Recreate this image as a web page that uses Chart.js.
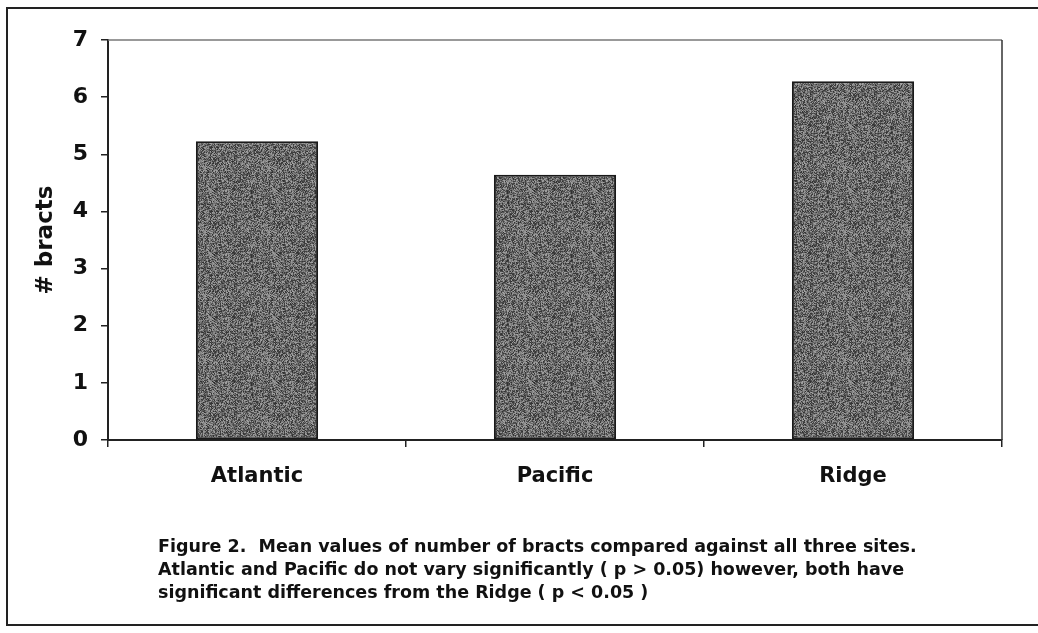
<!DOCTYPE html>
<html>
<head>
<meta charset="utf-8">
<script src="https://cdn.jsdelivr.net/npm/chart.js@4.4.1/dist/chart.umd.min.js"></script>
<style>
  html, body { margin: 0; padding: 0; background: #fff; overflow: hidden; }
  #wrap { position: relative; width: 1038px; height: 633px; }
  #frame { position: absolute; left: 6px; top: 7px; width: 1100px; height: 619px;
           border: 2px solid #222; border-right: none; box-sizing: border-box; }
  #chart { position: absolute; left: 0; top: 0; }
  #caption { position: absolute; left: 158px; top: 535px; font-family: "DejaVu Sans", sans-serif;
             font-size: 17.5px; font-weight: bold; line-height: 23px; color: #111; white-space: pre; }
</style>
</head>
<body>
<div id="wrap">
  <div id="frame"></div>
  <canvas id="chart" width="1038" height="633"></canvas>
  <div id="caption">Figure 2.  Mean values of number of bracts compared against all three sites.
Atlantic and Pacific do not vary significantly ( p &gt; 0.05) however, both have
significant differences from the Ridge ( p &lt; 0.05 )</div>
</div>
<script>
const sites = ['Atlantic', 'Pacific', 'Ridge'];
const meanBracts = [5.23, 4.64, 6.28];
const yTicks = [0, 1, 2, 3, 4, 5, 6, 7];

// grainy grey fill like the scanned bars
function grainPattern() {
  const c = document.createElement('canvas');
  c.width = 64; c.height = 64;
  const g = c.getContext('2d');
  let seed = 12345;
  function next() { seed = (seed * 1103515245 + 12345) & 0x7fffffff; return seed / 0x7fffffff; }
  for (let y = 0; y < 64; y++) {
    for (let x = 0; x < 64; x++) {
      const v = Math.round(45 + next() * 120);
      g.fillStyle = 'rgb(' + v + ',' + v + ',' + v + ')';
      g.fillRect(x, y, 1, 1);
    }
  }
  return g.createPattern(c, 'repeat');
}

const frameLines = {
  id: 'frameLines',
  afterDraw: (chart) => {
    const { ctx, chartArea: { top, left, right, bottom } } = chart;
    ctx.save();
    ctx.strokeStyle = '#777';
    ctx.lineWidth = 1.5;
    ctx.beginPath();
    ctx.moveTo(left, top);
    ctx.lineTo(right, top);
    ctx.stroke();
    ctx.strokeStyle = '#333';
    ctx.beginPath();
    ctx.moveTo(right, top);
    ctx.lineTo(right, bottom);
    ctx.stroke();
    ctx.restore();
  }
};

const ctx = document.getElementById('chart').getContext('2d');
new Chart(ctx, {
  type: 'bar',
  data: {
    labels: sites,
    datasets: [{
      data: meanBracts,
      backgroundColor: grainPattern(),
      borderColor: '#1a1a1a',
      borderWidth: 2,
      borderSkipped: false,
      barPercentage: 0.82,
      categoryPercentage: 0.5
    }]
  },
  options: {
    responsive: false,
    animation: false,
    layout: { padding: { top: 40, right: 36, bottom: 0, left: 0 } },
    plugins: { legend: { display: false }, tooltip: { enabled: false } },
    scales: {
      x: {
        grid: { offset: true, drawOnChartArea: false, tickLength: 7, color: '#222', lineWidth: 1.5 },
        border: { color: '#222', width: 2 },
        ticks: { color: '#111', padding: 17, font: { family: 'DejaVu Sans', size: 21, weight: 'bold' } },
        afterFit: (scale) => { scale.height = 193; }
      },
      y: {
        min: 0, max: 7,
        afterBuildTicks: (scale) => { scale.ticks = yTicks.map(v => ({ value: v })); },
        grid: { drawOnChartArea: false, tickLength: 7, color: '#222', lineWidth: 1.5 },
        border: { color: '#222', width: 2 },
        ticks: { color: '#111', padding: 13, font: { family: 'DejaVu Sans', size: 22, weight: 'bold' } },
        title: { display: true, text: '# bracts', color: '#111', padding: { top: 32, bottom: 0 },
                 font: { family: 'DejaVu Sans', size: 23, weight: 'bold' } },
        afterFit: (scale) => { scale.width = 108; }
      }
    }
  },
  plugins: [frameLines]
});
</script>
</body>
</html>
